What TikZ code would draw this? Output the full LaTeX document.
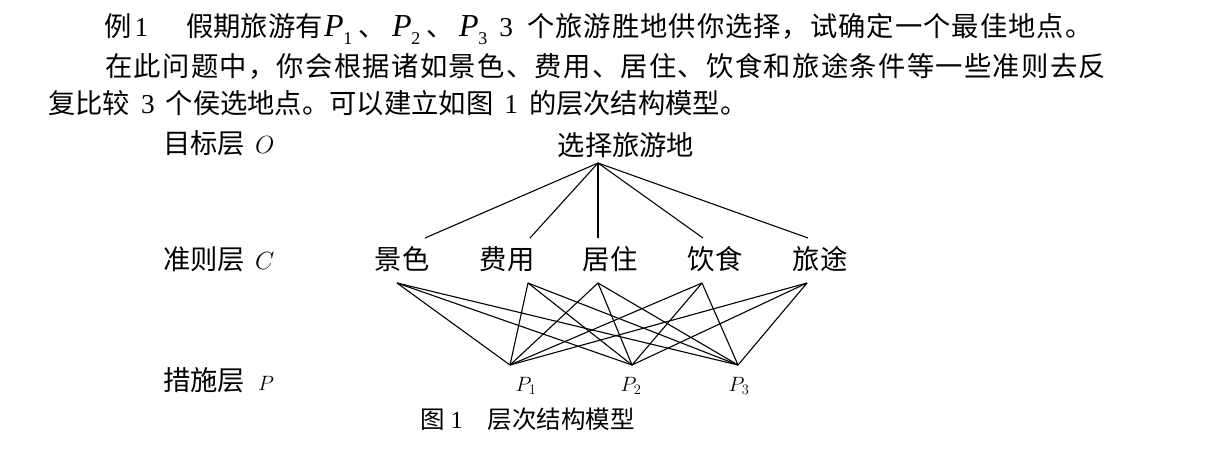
\documentclass[tikz,border=0pt]{standalone}
\usepackage{fontspec}
\setmainfont{Liberation Serif}
\newfontfamily\cjk{Noto Sans CJK SC}
\newfontfamily\cjkmid{Noto Sans CJK SC}[LetterSpace=3.7]
\newfontfamily\cjkwide{Noto Sans CJK SC}[LetterSpace=4.9]
\newcommand{\Ptext}[1]{{\fontsize{32}{32}\selectfont\itshape P}\kern-0.5pt\raisebox{-8pt}{\fontsize{18}{18}\selectfont #1}}
\tikzset{
  para/.style={anchor=base west,inner sep=0pt,font=\fontsize{27.3}{30}\selectfont},
  lbl/.style={anchor=base,inner sep=0pt,font=\fontsize{27.3}{30}\selectfont\cjk},
  place/.style={anchor=base,inner sep=0pt,font=\fontsize{22}{26}\selectfont},
  link/.style={line width=1.1pt,black}
}
\begin{document}
\begin{tikzpicture}[x=1pt,y=-1pt]
  \useasboundingbox[fill=white] (0,0) rectangle (1210,456);
  % text above the figure
  \node[para] (ex) at (104,36) {{\cjk 例}\hspace{3pt}1};
  \node[para] (exa) at (186,36) {\cjk 假期旅游有};
  \node[para] (exp1) at (324,36) {\Ptext{1}\hspace{6pt}{\cjk 、}};
  \node[para] (exp2) at (392,36) {\Ptext{2}\hspace{6pt}{\cjk 、}};
  \node[para] (exp3) at (459,36) {\Ptext{3}\hspace{12pt}3};
  \node[para] (exb) at (527,36) {\cjkmid 个旅游胜地供你选择，试确定一个最佳地点。};
  \node[para] (parb) at (105,76) {\cjkwide 在此问题中，你会根据诸如景色、费用、居住、饮食和旅途条件等一些准则去反};
  \node[para] (parc) at (48,113) {{\cjk 复比较}\hspace{11pt}3\hspace{11pt}{\cjk 个侯选地点。可以建立如图}\hspace{11pt}1\hspace{11pt}{\cjk 的层次结构模型。}};
  % layer names
  \node[para] (layo) at (163,153) {{\cjk 目标层}\hspace{10pt}{\fontsize{25}{28}\selectfont$O$}};
  \node[para] (layc) at (163,269) {{\cjk 准则层}\hspace{10pt}{\fontsize{25}{28}\selectfont$C$}};
  \node[para] (layp) at (163,390) {{\cjk 措施层}\hspace{13pt}{\fontsize{21}{24}\selectfont$P$}};
  % goal, criteria, places
  \node[lbl] (goal) at (626,155) {选择旅游地};
  \node[lbl] (k1) at (402,269) {景色};
  \node[lbl] (k2) at (507,269) {费用};
  \node[lbl] (k3) at (610,269) {居住};
  \node[lbl] (k4) at (715,269) {饮食};
  \node[lbl] (k5) at (820,269) {旅途};
  \node[place] (pl1) at (526,391) {$P_1$};
  \node[place] (pl2) at (631,391) {$P_2$};
  \node[place] (pl3) at (739,391) {$P_3$};
  \node[para,font=\fontsize{24.5}{28}\selectfont] (cap) at (420,428) {{\cjk 图}\hspace{6pt}1\hspace{25pt}{\cjk 层次结构模型}};
  % end points of the links
  \coordinate (top) at (598,163);
  \foreach \n/\xt/\xb in {1/425/397,2/530/528,3/598/598,4/703/702,5/808/807}{
    \coordinate (ct\n) at (\xt,238);
    \coordinate (cb\n) at (\xb,283);
  }
  \foreach \m/\xp in {1/510,2/632,3/738}
    \coordinate (pt\m) at (\xp,365);
  \foreach \n in {1,...,5}{
    \draw[link] (top) -- (ct\n);
    \foreach \m in {1,2,3}
      \draw[link] (cb\n) -- (pt\m);
  }
\end{tikzpicture}
\end{document}
